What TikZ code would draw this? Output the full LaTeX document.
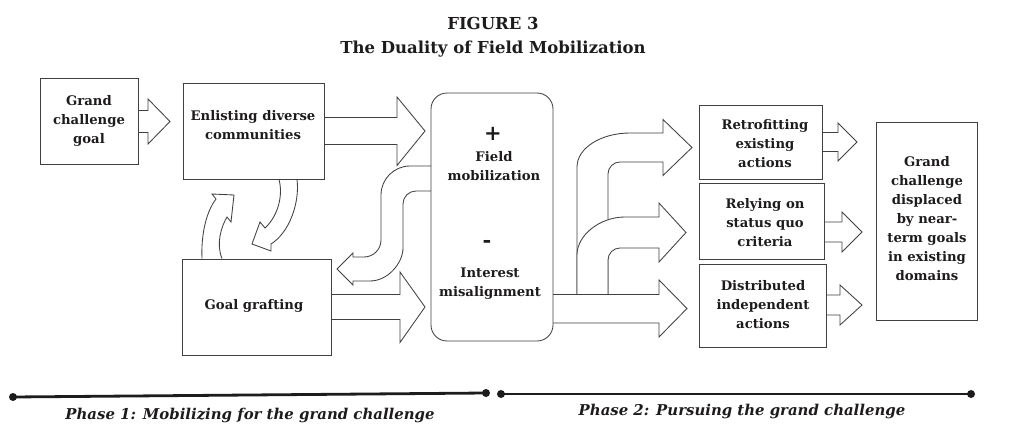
\documentclass[tikz,border=0pt]{standalone}
\usepackage{fontspec}
\setmainfont{DejaVu Serif}
\usetikzlibrary{backgrounds}
\definecolor{ln}{HTML}{404040}
\definecolor{txt}{HTML}{1E1B1C}
\newcommand{\lblfont}{\fontsize{13.2}{19}\selectfont\bfseries}
\begin{document}
\begin{tikzpicture}[x=1pt,y=-1pt,
  box/.style={draw=ln, line width=0.85pt, inner sep=0pt, outer sep=0pt},
  lbl/.style={font=\lblfont, text=txt, align=center, inner sep=0pt},
  arr/.style={draw=ln, fill=white, line width=0.85pt, line join=miter},
  phase/.style={line width=2.8pt, draw=txt},
  dot/.style={fill=txt},
  phlbl/.style={font=\fontsize{14.9}{17}\selectfont\bfseries\itshape, text=txt, inner sep=0pt}]
\useasboundingbox (0,0) rectangle (1021,447);

% title
\node[font=\fontsize{16.5}{19}\selectfont\bfseries, text=txt, inner sep=0pt] (t1) at (493,23) {FIGURE 3};
\node[font=\fontsize{16.5}{19}\selectfont\bfseries, text=txt, inner sep=0pt] (t2) at (493,49) {The Duality of Field Mobilization};

% boxes
\node[box, minimum width=98pt, minimum height=86pt] (gcg) at (89,121) {};
\node[box, minimum width=141pt, minimum height=96pt] (enl) at (253.5,131) {};
\node[box, minimum width=149pt, minimum height=96pt] (gg) at (256.5,307) {};
\node[box, minimum width=122pt, minimum height=248pt, rounded corners=16pt] (ctr) at (492,217) {};
\node[box, minimum width=123pt, minimum height=74pt] (retro) at (760.5,142) {};
\node[box, minimum width=125pt, minimum height=76pt] (rely) at (761.5,221) {};
\node[box, minimum width=127pt, minimum height=83pt] (dist) at (762.5,305.5) {};
\node[box, minimum width=101pt, minimum height=198pt] (fin) at (926.5,221) {};

% texts
\node[lbl] (gcgt) at (89,121) {Grand\\challenge\\goal};
\node[lbl] (enlt) at (253,125) {Enlisting diverse\\communities};
\node[lbl] (ggt) at (254,306) {Goal grafting};
\node[lbl, font=\fontsize{21}{21}\selectfont\bfseries] (plus) at (493,134) {+};
\node[lbl] (fm) at (494,166) {Field\\mobilization};
\node[lbl, font=\fontsize{21}{21}\selectfont\bfseries] (minus) at (487,244) {-};
\node[lbl] (im) at (490,283.5) {Interest\\misalignment};
\node[lbl] (retrot) at (765,144) {Retrofitting\\existing\\actions};
\node[lbl] (relyt) at (765,222.5) {Relying on\\status quo\\criteria};
\node[lbl] (distt) at (763,305) {Distributed\\independent\\actions};
\node[lbl] (fint) at (927,219) {Grand\\challenge\\displaced\\by near-\\term goals\\in existing\\domains};

\begin{scope}[on background layer]
% straight block arrows
\draw[arr] (138,110.5) -- (148,110.5) -- (148,99) -- (170,121.5) -- (148,144) -- (148,132.5) -- (138,132.5);
\draw[arr] (324,117.5) -- (397,117.5) -- (397,97) -- (425,131) -- (397,165.5) -- (397,144.5) -- (324,144.5);
\draw[arr] (331,294.5) -- (400,294.5) -- (400,272) -- (425,307) -- (400,342.5) -- (400,319.5) -- (331,319.5);
% loop arrows between enlisting and goal grafting
\draw[arr] (202,258.5) .. controls (201,235) and (206,212) .. (216,199) -- (212,194) -- (234,195) -- (231,222) -- (227,217) .. controls (221,227) and (216,244) .. (222,258.5);
\draw[arr] (279,179.5) .. controls (283,194) and (279,215) .. (265,228) -- (260,222) -- (252,244) -- (271,251) -- (271,244) .. controls (289,233) and (300,203) .. (297,179.5);
% S arrow from centre back to goal grafting
\draw[arr] (431,166) -- (410,166) .. controls (394,166) and (381,179) .. (381,195) -- (381,240) .. controls (381,249.4) and (373.4,257) .. (364,257) -- (353,257) -- (353,253) -- (337,269) -- (353,285) -- (353,281) -- (370,281) .. controls (388.2,281) and (403,262.8) .. (403,248) -- (403,204) .. controls (403,196.8) and (408.8,191) .. (416,191) -- (431,191);
% branching arrows
\draw[arr] (577,310) -- (577,167) .. controls (577,148) and (601,133) .. (630,133) -- (663,133) -- (663,119.5) -- (692,147.5) -- (663,175.5) -- (663,162) -- (620,162) .. controls (613.4,162) and (608,167.4) .. (608,174) -- (608,310) -- cycle;
\draw[arr] (577,310) -- (577,255) .. controls (577,235) and (600,217) .. (625,217) -- (659,217) -- (659,203) -- (686,232.5) -- (659,262) -- (659,248) -- (620,248) .. controls (613.4,248) and (608,253.4) .. (608,260) -- (608,310) -- cycle;
\draw[arr] (553,294.5) -- (659,294.5) -- (659,280) -- (687,308.5) -- (659,337) -- (659,323) -- (553,323);
% small arrows to final box
\draw[arr] (822,132.5) -- (838,132.5) -- (838,123) -- (857,142) -- (838,161) -- (838,151.5) -- (822,151.5);
\draw[arr] (824,222) -- (842,222) -- (842,212) -- (862,232) -- (842,252) -- (842,242) -- (824,242);
\draw[arr] (826,295) -- (840,295) -- (840,285) -- (862,305) -- (840,325) -- (840,315) -- (826,315);
\end{scope}

% phase lines
\coordinate (p1a) at (13,397);
\coordinate (p1b) at (486,393);
\coordinate (p2a) at (501,394);
\coordinate (p2b) at (971,394);
\draw[phase] (p1a) -- (p1b);
\draw[phase] (p2a) -- (p2b);
\fill[dot] (p1a) circle[radius=4pt];
\fill[dot] (p1b) circle[radius=4pt];
\fill[dot] (p2a) circle[radius=4pt];
\fill[dot] (p2b) circle[radius=4pt];
\node[phlbl] (ph1) at (250,415) {Phase 1: Mobilizing for the grand challenge};
\node[phlbl] (ph2) at (742,411) {Phase 2: Pursuing the grand challenge};
\end{tikzpicture}
\end{document}
